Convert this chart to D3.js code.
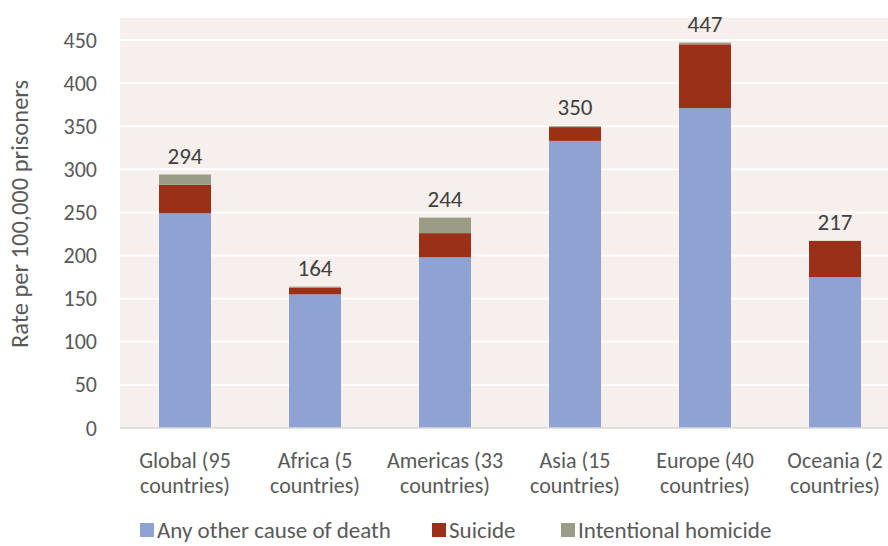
<!DOCTYPE html>
<html>
<head>
<meta charset="utf-8">
<script src="https://cdn.jsdelivr.net/npm/d3@7"></script>
<style>
  body { margin: 0; background: #fff; }
  text { font-family: Carlito, "Open Sans", "Noto Sans", sans-serif; }
</style>
</head>
<body>
<div id="chart"></div>
<script>
// data
var categories = ["Global (95|countries)", "Africa (5|countries)", "Americas (33|countries)",
                  "Asia (15|countries)", "Europe (40|countries)", "Oceania (2|countries)"]
var otherCause = [249, 155, 198, 333, 371, 175]
var suicide = [33, 7.5, 28, 16, 74, 42]
var homicide = [12, 1.5, 18, 1, 2, 0]
var totals = [294, 164, 244, 350, 447, 217]
var seriesNames = ["Any other cause of death", "Suicide", "Intentional homicide"]
var yTicks = [0, 50, 100, 150, 200, 250, 300, 350, 400, 450]

var width = 888, height = 546
var margin = {left: 120, top: 18, right: -12, bottom: 118}

var svg = d3.select("#chart").append("svg")
  .attr("width", width)
  .attr("height", height)

var x = d3.scaleBand()
  .domain(categories)
  .range([margin.left, width - margin.right])
  .paddingInner(0.6)
  .paddingOuter(0.3)

var y = d3.scaleLinear()
  .domain([0, 450])
  .range([height - margin.bottom, 40])

// plot background
svg.append("rect")
  .attr("x", margin.left)
  .attr("y", margin.top)
  .attr("width", width - margin.left)
  .attr("height", y(0) - margin.top)
  .attr("fill", "#f7efec")

// gridlines
svg.append("g")
  .selectAll("line")
  .data(yTicks.slice(1))
  .enter().append("line")
    .attr("x1", margin.left)
    .attr("x2", width)
    .attr("y1", function(d){ return y(d) })
    .attr("y2", function(d){ return y(d) })
    .attr("stroke", "#ffffff")
    .attr("stroke-width", 2)

// y axis labels
var yAxis = d3.axisLeft(y).tickValues(yTicks).tickSize(0).tickPadding(23)
svg.append("g")
  .attr("transform", "translate(" + margin.left + ",0)")
  .call(yAxis)
  .call(function(g){ g.select(".domain").remove() })
  .selectAll("text")
    .attr("font-size", 22)
    .attr("fill", "#595959")
    .attr("font-family", "Carlito, 'Open Sans', sans-serif")

svg.append("text")
  .attr("transform", "translate(28,214) rotate(-90)")
  .attr("text-anchor", "middle")
  .attr("font-size", 24.5)
  .attr("fill", "#595959")
  .text("Rate per 100,000 prisoners")

// stacked bars
var rows = categories.map(function(c, i) {
  return {cat: c, other: otherCause[i], suicide: suicide[i], homicide: homicide[i]}
})
var stack = d3.stack().keys(["other", "suicide", "homicide"])
var color = d3.scaleOrdinal()
  .domain(["other", "suicide", "homicide"])
  .range(["#8fa2d4", "#9b3019", "#9b9c86"])

svg.append("g")
  .selectAll("g")
  .data(stack(rows))
  .enter().append("g")
    .attr("fill", function(d){ return color(d.key) })
  .selectAll("rect")
  .data(function(d){ return d })
  .enter().append("rect")
    .attr("x", function(d){ return x(d.data.cat) })
    .attr("width", x.bandwidth())
    .attr("y", function(d){ return y(d[1]) })
    .attr("height", function(d){ return y(d[0]) - y(d[1]) })

// baseline
svg.append("line")
  .attr("x1", margin.left).attr("x2", width)
  .attr("y1", y(0)).attr("y2", y(0))
  .attr("stroke", "#d9d9d9")
  .attr("stroke-width", 1.5)

// total labels
svg.append("g")
  .selectAll("text")
  .data(categories)
  .enter().append("text")
    .attr("x", function(d){ return x(d) + x.bandwidth() / 2 })
    .attr("y", function(d, i){ return y(otherCause[i] + suicide[i] + homicide[i]) - 11 })
    .attr("text-anchor", "middle")
    .attr("font-size", 23)
    .attr("fill", "#404040")
    .text(function(d, i){ return totals[i] })

// category labels, two lines each
var xl = svg.append("g")
  .selectAll("text")
  .data(categories)
  .enter().append("text")
    .attr("x", function(d){ return x(d) + x.bandwidth() / 2 })
    .attr("y", 468)
    .attr("text-anchor", "middle")
    .attr("font-size", 22)
    .attr("fill", "#595959")
xl.selectAll("tspan")
  .data(function(d){ return d.split("|") })
  .enter().append("tspan")
    .attr("x", function(){ return this.parentNode.getAttribute("x") })
    .attr("dy", function(d, i){ return i == 0 ? 0 : 25 })
    .text(function(d){ return d })

// legend
var legendX = [140, 432, 561]
var legend = svg.append("g")
  .selectAll("g")
  .data(seriesNames)
  .enter().append("g")
    .attr("transform", function(d, i){ return "translate(" + legendX[i] + ",523)" })
legend.append("rect")
  .attr("width", 14).attr("height", 14)
  .attr("fill", function(d, i){ return color.range()[i] })
legend.append("text")
  .attr("x", 17).attr("y", 15)
  .attr("font-size", 23)
  .attr("fill", "#595959")
  .text(function(d){ return d })
</script>
</body>
</html>
